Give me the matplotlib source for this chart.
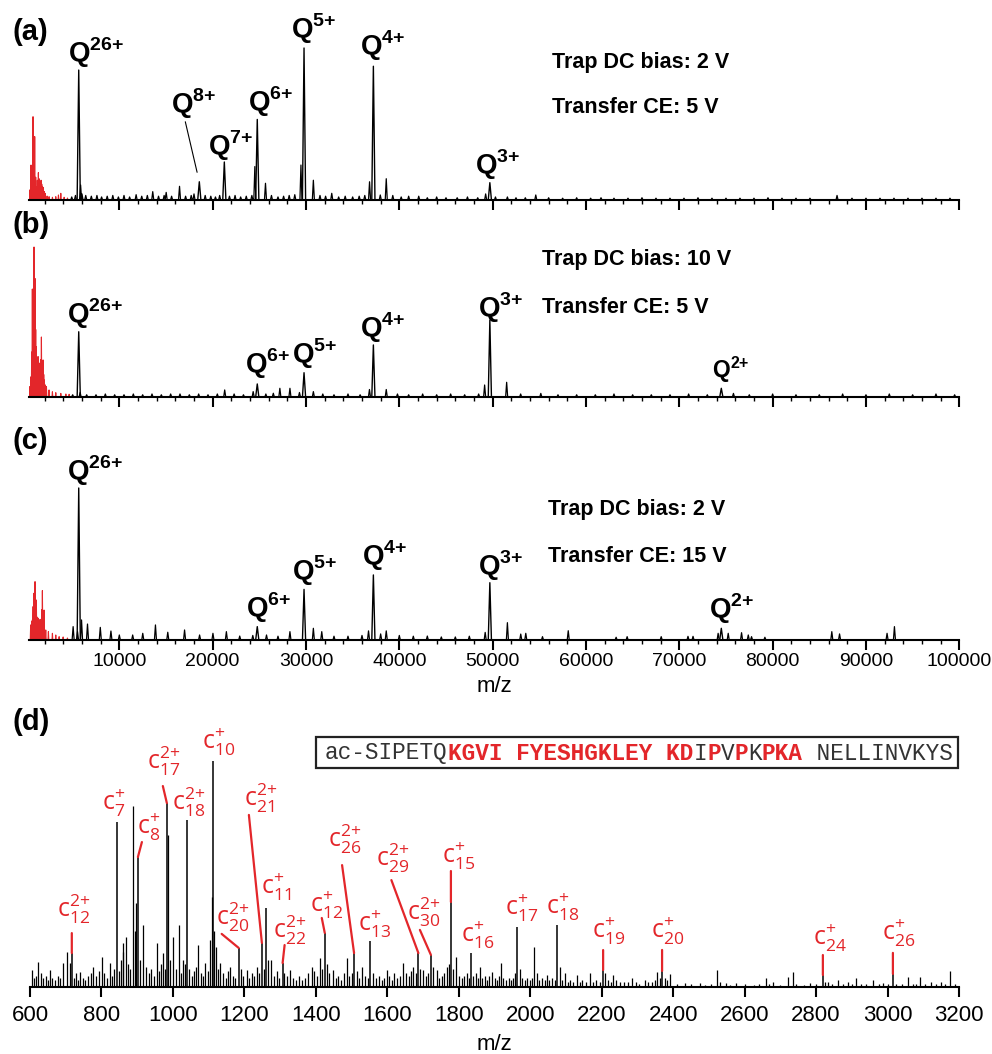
import numpy as np
import matplotlib
matplotlib.use('Agg')
import matplotlib.pyplot as plt
from matplotlib.patches import Rectangle
from matplotlib.ticker import MultipleLocator

plt.rcParams['font.family'] = ['Liberation Sans', 'DejaVu Sans']
plt.rcParams['mathtext.fontset'] = 'custom'
plt.rcParams['mathtext.rm'] = 'Liberation Sans'
plt.rcParams['mathtext.bf'] = 'Liberation Sans:bold'
plt.rcParams['mathtext.sf'] = 'Open Sans'

RED = '#e3262a'
W, H = 992, 1054
PT = 72 / 100  # pixel -> point

# ---------------- data: native MS, panels (a)-(c), intensities in % ----------------
# charge-state peaks (m/z, intensity)
q_charges = ['26+', '8+', '7+', '6+', '5+', '4+', '3+', '2+']
q_mz = [5650, 18570, 21250, 24780, 29790, 37220, 49700, 74500]

a_q_int = [85.5, 12, 25, 53, 100, 88, 11.4, None]
b_q_int = [43.5, None, None, 8.7, 16.2, 34.7, 51.3, 5.8]
c_q_int = [100, None, None, 8.8, 33.3, 42.8, 37.7, 7.7]

# low m/z fragments (red)
a_red_mz = [394, 538, 645, 753, 824, 932, 1040, 1111, 1219, 1326, 1398, 1505, 1613,
            1685, 1756, 1864, 1971, 2043, 2258, 2473, 2832, 3190, 3477, 3728, 4086, 4444]
a_red_int = [6.6, 23, 18.6, 54.8, 26, 41.7, 15, 8.8, 13, 18, 14, 9.9, 13,
             10.5, 9, 8.3, 5.5, 4.4, 2.6, 2.2, 1.8, 2.2, 3.3, 4.4, 1.8, 1.3]
b_red_mz = [400, 540, 610, 680, 760, 860, 968, 1040, 1110, 1200, 1290, 1380, 1470, 1560,
            1650, 1740, 1830, 1900, 1970, 2080, 2190, 2470, 2830, 3190, 3730, 4270, 4620]
b_red_int = [6.9, 13.5, 30, 72, 60, 100, 79, 45, 33.5, 20, 27, 18, 22.6, 25,
             40, 20, 24.7, 15, 11.3, 8, 6.9, 4.7, 3.5, 2.9, 2.4, 2, 1.8]
c_red_mz = [500, 600, 680, 760, 824, 900, 968, 1040, 1110, 1220, 1326, 1505, 1613, 1700,
            1756, 1850, 1935, 2115, 2400, 2830, 3190, 3550, 3980, 4440]
c_red_int = [9.9, 12, 13.2, 22, 30.7, 20, 38.4, 20, 26.3, 15, 14.3, 13.6, 11, 20,
             32.5, 18, 19.7, 6.6, 5.5, 4.4, 3.3, 2.2, 2, 1.3]

# other (minor) peaks
a_minor_mz = [4900, 5300, 5850, 6000, 6400, 7000, 7600, 8100, 8700, 9300, 9900, 10500, 11100,
              11800, 12400, 13000, 13580, 14200, 14800, 15020, 15600, 16450, 17100, 17700,
              18000, 19200, 19800, 20300, 20750, 21800, 22400, 23000, 23600, 24200, 24520,
              25660, 26300, 27000, 27600, 28200, 28800, 29460, 30790, 31500, 32100, 32760,
              33500, 34200, 35000, 35700, 36300, 36810, 37960, 38600, 39300, 40200, 41000,
              42080, 43000, 44000, 45000, 46200, 47300, 48400, 49250, 50300, 51580, 52500,
              53500, 54620, 56000, 57500, 59000, 60500, 61610, 63000, 64500, 66000, 67500,
              69000, 70500, 72000, 73500, 75000, 76500, 78000, 79500, 81000, 82500, 84000,
              86900, 88500, 90000, 91500, 93000, 94500, 96000, 97500, 99000]
a_minor_int = [2, 3, 9.9, 4, 3, 2.5, 3, 2, 2.5, 3, 2, 3, 2,
               3.5, 2.5, 3, 5.5, 2.5, 3, 5, 2.5, 9, 2.5, 3,
               4, 3, 2.5, 2, 3, 2.5, 3, 2, 2.5, 3, 22,
               11, 3, 2, 2.5, 3, 3.5, 23, 13, 3, 2.5, 4.4,
               2, 2.5, 2, 2.5, 3, 12, 3.3, 14, 3, 2, 2.5,
               2.5, 1.5, 2, 1.5, 1.5, 2, 1.5, 4, 2, 2, 1.5,
               1.5, 3.3, 1.5, 1.2, 1.5, 1.2, 1.5, 1.2, 1.2, 1.5, 1.2,
               1.2, 1.2, 1.5, 1.2, 1.2, 1.2, 1.2, 1.5, 1.2, 1.2, 1.2,
               3, 1.2, 1.2, 1.2, 1.2, 1.2, 1.2, 1.2, 1.2]
b_minor_mz = [5000, 5800, 6500, 7500, 8500, 9500, 10500, 11500, 12500, 13500, 14500, 15500,
              16500, 17500, 18500, 19500, 20500, 21290, 22300, 23300, 24340, 25700, 26500,
              27200, 28280, 29300, 30790, 31800, 33000, 34500, 35800, 36800, 38600, 39800,
              41000, 42500, 44000, 45500, 47000, 48500, 49140, 51500, 53000, 55160, 57000,
              59000, 61000, 63000, 65000, 67000, 69000, 71000, 73000, 75800, 77500, 80000,
              82500, 85000, 87500, 90000, 92500, 95000, 97500, 99500]
b_minor_int = [1.5, 3, 1.5, 1.5, 2, 1.5, 1.5, 2, 1.5, 2, 1.5, 2,
               2, 1.5, 2, 1.5, 2, 4.7, 2, 1.5, 3.6, 2, 2.5,
               5.8, 5.8, 3, 3.6, 2, 1.5, 2, 1.5, 5, 5, 2,
               1.5, 2, 1.5, 2, 1.5, 2, 8, 9.8, 2, 2.4, 1.5,
               1.5, 1.5, 2, 1.5, 1.5, 1.5, 2, 1.5, 2.4, 1.5, 2,
               1.5, 1.5, 2, 1.5, 2, 1.5, 2, 1.5]
c_minor_mz = [5050, 5520, 5950, 6590, 7960, 9100, 10000, 11430, 12510, 13870, 15190, 16990,
              18600, 20030, 21470, 22900, 24300, 25770, 27000, 28280, 30790, 31690, 33000,
              34500, 36000, 36700, 38000, 38600, 40000, 41500, 43000, 44500, 46000, 47500,
              49200, 51580, 53010, 53550, 55340, 58100, 63230, 64410, 68060, 70930, 71470,
              74160, 75240, 76670, 77390, 77740, 79170, 86340, 87170, 92260, 93050]
c_minor_int = [8.8, 5.5, 13.2, 10.5, 8.3, 5.9, 3.3, 3.3, 4.4, 9.9, 5.1, 6.6,
               3.3, 4.4, 5.5, 2.6, 3, 3.3, 2.5, 5.5, 7.7, 5.5, 2.5,
               2.5, 3, 6, 4, 6, 3, 2.5, 2.6, 2, 2, 2.5,
               5, 11.4, 3.9, 4.4, 2.2, 6.1, 1.8, 2.2, 2.2, 2.4, 2.4,
               4.4, 4.4, 4.8, 3.3, 2.2, 1.8, 5.5, 4.0, 4.4, 8.8]

# ---------------- data: panel (d) top-down MS/MS ----------------
c_ions = ['12', '7', '8', '17', '18', '10', '20', '21', '11', '22', '12', '26', '13',
          '29', '30', '15', '16', '17', '18', '19', '20', '24', '26']
c_z = ['2+', '+', '+', '2+', '2+', '+', '2+', '2+', '+', '2+', '+', '2+', '+',
       '2+', '2+', '+', '+', '+', '+', '+', '+', '+', '+']
c_mz = [717, 843, 902, 983, 1039, 1112, 1184, 1249, 1260, 1307, 1425, 1507, 1551,
        1687, 1722, 1778, 1834, 1963, 2075, 2204, 2369, 2819, 3015]
c_int = [15.0, 73.0, 57.5, 81.4, 73.9, 100, 17.3, 19.5, 35.0, 10.6, 23.9, 15.0, 20.4,
         15.0, 14.2, 37.6, 15.0, 26.5, 27.4, 7.5, 7.1, 5.3, 5.8]

d_mz = [605, 612, 618, 623, 630, 637, 645, 650, 656, 662, 670, 677, 685, 693, 703, 712, 722,
        728, 735, 740, 748, 755, 762, 770, 777, 785, 792, 801, 808, 815, 824, 830, 836, 850,
        855, 859, 861, 869, 875, 880, 888, 893, 896, 908, 917, 925, 932, 940, 948, 955, 962,
        968, 973, 978, 986, 992, 1001, 1008, 1017, 1022, 1027, 1035, 1046, 1052, 1058, 1064,
        1071, 1078, 1084, 1090, 1097, 1104, 1109, 1116, 1121, 1127, 1132, 1140, 1148, 1153,
        1160, 1167, 1174, 1190, 1196, 1206, 1214, 1220, 1227, 1234, 1241, 1255, 1265, 1274,
        1282, 1290, 1298, 1312, 1320, 1328, 1336, 1345, 1353, 1360, 1370, 1378, 1388, 1395,
        1402, 1412, 1418, 1430, 1438, 1449, 1456, 1463, 1470, 1478, 1486, 1494, 1500, 1515,
        1521, 1528, 1537, 1545, 1560, 1568, 1576, 1585, 1591, 1598, 1606, 1613, 1620, 1628,
        1636, 1645, 1652, 1660, 1666, 1673, 1680, 1692, 1701, 1708, 1715, 1728, 1738, 1745,
        1752, 1759, 1766, 1772, 1785, 1792, 1800, 1808, 1815, 1822, 1828, 1840, 1847, 1853,
        1859, 1866, 1873, 1880, 1886, 1892, 1900, 1906, 1912, 1918, 1925, 1932, 1940, 1946,
        1953, 1958, 1970, 1976, 1985, 1992, 2000, 2006, 2011, 2018, 2024, 2032, 2040, 2046,
        2053, 2060, 2068, 2082, 2090, 2097, 2105, 2112, 2120, 2130, 2138, 2146, 2155, 2167,
        2175, 2185, 2195, 2210, 2218, 2225, 2233, 2240, 2250, 2262, 2275, 2284, 2295, 2305,
        2321, 2330, 2340, 2348, 2354, 2362, 2376, 2384, 2391, 2410, 2433, 2450, 2475, 2490,
        2505, 2523, 2531, 2548, 2560, 2576, 2600, 2625, 2640, 2660, 2668, 2680, 2700, 2722,
        2736, 2745, 2765, 2783, 2800, 2826, 2834, 2845, 2862, 2875, 2890, 2900, 2912, 2925,
        2940, 2960, 2975, 2988, 3000, 3025, 3040, 3058, 3070, 3080, 3091, 3105, 3123, 3135,
        3151, 3160, 3176, 3190]
d_int = [7.5, 4, 5, 11.2, 6, 4, 5, 3, 7.5, 4, 3, 5, 4, 10.6, 15.6, 10.8, 4,
         6, 3, 6.8, 4, 3, 5, 6, 9, 5, 7, 13.4, 6, 4, 10.5, 5, 8, 7,
         12, 15.6, 19.3, 22, 10, 8, 80.1, 25, 37, 12, 27.4, 9, 6, 8, 5, 19.3, 7,
         10, 14.9, 8, 67.3, 12, 22, 8, 27.4, 6, 11.9, 10, 8, 5, 7, 9,
         18.6, 6, 5, 10.6, 7, 20.8, 40, 25, 17.8, 8, 10.6, 6, 4, 7,
         9, 5, 4, 8, 5, 7.5, 4, 6, 5, 9, 6, 8, 12, 11.9,
         5, 7, 4, 6, 5, 7.5, 4, 3, 5, 3, 4, 6, 9, 7,
         5, 12.7, 8, 10, 6, 7.5, 4, 5, 3, 6, 12.7, 5, 6, 7,
         4, 9, 5, 4, 6, 4, 5, 3, 4, 7.5, 5, 3, 6, 4,
         5, 10.5, 6, 5, 7, 9, 6, 8, 7.5, 5, 6, 9, 7.5, 4,
         5, 6, 9, 10, 8, 13.4, 5, 4, 5, 6, 4, 5, 6, 4,
         9, 4, 5, 3, 5, 6.8, 4, 3, 5, 10.5, 4, 3, 4, 3,
         4, 6, 8, 4, 3, 4, 3, 4, 17.7, 6, 3, 4, 3, 5.3,
         3, 4, 3, 9, 3, 6.1, 2, 3, 2, 5.3, 2, 3, 2, 6.1,
         2, 3, 2, 6, 3, 2, 5.3, 3, 2, 2, 2, 3.8, 2, 1.5,
         3.1, 2, 2, 3, 6.8, 4, 4, 3, 5.8, 1.5, 1.8, 1.2, 1.8, 1,
         1.5, 7.5, 2, 1.8, 1, 1.8, 1.2, 1, 1.2, 3.8, 1.5, 2.4, 1, 4.6,
         6.8, 1.5, 1, 1.8, 1.2, 2, 2.4, 1.2, 3.1, 1.5, 2.4, 1.2, 3.8, 1.2,
         1.5, 3.1, 1.2, 1.8, 1.2, 1.5, 1.2, 4.6, 1.2, 1.5, 4.6, 1.5, 2.4, 1.5,
         2.4, 1.5, 6.9, 1.2]

sequence = [('ac-SIPETQ', False), ('KGVI FYESHGKLEY KD', True), ('I', False), ('P', True),
            ('V', False), ('P', True), ('K', False), ('PKA', True), (' NELLINVKYS', False)]

# ---------------- layout (pixels) ----------------
# label offsets relative to the peak top: (dx, dy) in pixels
a_lab = {'26+': (-11, 8), '8+': (-28, 69), '7+': (-16, 7), '6+': (-9, 8),
         '5+': (-13, 10), '4+': (-13, 11), '3+': (-15, 9)}
b_lab = {'26+': (-12, 9), '6+': (-12, 11), '5+': (-12, 10), '4+': (-13, 8),
         '3+': (-12, 3), '2+': (-9, 10)}
c_lab = {'26+': (-12, 8), '6+': (-11, 10), '5+': (-12, 9), '4+': (-11, 10),
         '3+': (-12, 8), '2+': (-12, 10)}
# (label dx, label dy, leader start) for c ions
c_layout = [(-15, 36, (0, 20)), (-15, 12, None), (-1, 23, (4, 15)), (-20, 34, (-4, 17)),
            (-15, 10, None), (-11, 12, None), (-23, 23, (-17, 14)), (-18, 137, (-13, 128)),
            (-5, 14, None), (-10, 25, (2, 18)), (-15, 21, (-3, 15)), (-26, 106, (-12, 88)),
            (-12, 10, None), (-42, 87, (-27, 73)), (-24, 35, (-11, 25)), (-9, 39, (0, 31)),
            (-10, 11, None), (-12, 12, None), (-11, 11, None), (-11, 32, (0, 20)),
            (-11, 33, (0, 21)), (-10, 30, (0, 20)), (-11, 34, (0, 21))]

fig = plt.figure(figsize=(W / 100, H / 100), dpi=100)


def make_ax(left, right, top, bottom, full):
    ax = fig.add_axes([left / W, 1 - bottom / H, (right - left) / W, (bottom - top) / H])
    ax.set_ylim(0, 100 * (bottom - top) / full)
    for s in ['top', 'right', 'left']:
        ax.spines[s].set_visible(False)
    ax.spines['bottom'].set_linewidth(1.5)
    ax.set_yticks([])
    ax.patch.set_alpha(0)
    ax.tick_params(axis='x', which='major', direction='out', length=7, width=1.5)
    ax.tick_params(axis='x', which='minor', direction='out', length=3, width=1)
    return ax


def profile(mz, inten, hw):
    xs, ys = [], []
    for i in np.argsort(mz):
        xs += [mz[i] - hw, mz[i], mz[i] + hw]
        ys += [0, inten[i], 0]
    return xs, ys


def draw_native(ax, red_mz, red_int, minor_mz, minor_int, q_int, labels, qsize):
    x, y = profile(red_mz, red_int, 45)
    ax.fill(x, y, color=RED, lw=0)
    ax.plot(x, y, color=RED, lw=0.8)
    x, y = profile(minor_mz, minor_int, 110)
    ax.plot(x, y, color='black', lw=0.9)
    qm = [m for m, v in zip(q_mz, q_int) if v is not None]
    qi = [v for v in q_int if v is not None]
    x, y = profile(qm, qi, 170)
    ax.plot(x, y, color='black', lw=1.0)
    for ch, m, v in zip(q_charges, q_mz, q_int):
        if ch not in labels:
            continue
        dx, dy = labels[ch]
        ax.annotate(r'$\mathbf{Q}^{\mathbf{' + ch[:-1] + '{+}}}$', xy=(m, v),
                    xytext=(dx * PT, dy * PT), textcoords='offset points',
                    ha='left', va='baseline', fontsize=qsize.get(ch, 20),
                    annotation_clip=False)
    ax.set_xlim(300, 100000)
    ax.xaxis.set_major_locator(MultipleLocator(10000))
    ax.xaxis.set_minor_locator(MultipleLocator(2000))


ax_a = make_ax(28.8, 959.3, 40, 200, 152)
draw_native(ax_a, a_red_mz, a_red_int, a_minor_mz, a_minor_int, a_q_int, a_lab, {})
ax_a.annotate('', xy=(q_mz[1], a_q_int[1]), xytext=(-14 * PT, 60 * PT),
              textcoords='offset points', xycoords='data',
              arrowprops=dict(arrowstyle='-', color='black', lw=0.8, shrinkA=0, shrinkB=7))
ax_a.tick_params(labelbottom=False)

ax_b = make_ax(28.8, 959.3, 240, 397, 150)
draw_native(ax_b, b_red_mz, b_red_int, b_minor_mz, b_minor_int, b_q_int, b_lab, {'2+': 16.5})
ax_b.tick_params(labelbottom=False)

ax_c = make_ax(28.8, 959.3, 480, 640, 152)
draw_native(ax_c, c_red_mz, c_red_int, c_minor_mz, c_minor_int, c_q_int, c_lab, {})
ax_c.set_xticks(np.arange(10000, 100001, 10000))
ax_c.tick_params(axis='x', labelsize=14, pad=2)
ax_c.set_xlabel('m/z', fontsize=16, labelpad=5)

# panel (d)
ax_d = make_ax(30, 959, 750, 987, 226)
ax_d.vlines(d_mz, 0, d_int, color='black', lw=0.9)
ax_d.vlines(c_mz, 0, c_int, color='black', lw=1.1)
ax_d.set_xlim(600, 3200)
ax_d.set_xticks(np.arange(600, 3201, 200))
ax_d.tick_params(axis='x', labelsize=16, pad=6)
ax_d.set_xlabel('m/z', fontsize=16, labelpad=6)
for n, z, m, v, (dx, dy, lead) in zip(c_ions, c_z, c_mz, c_int, c_layout):
    # 'c' as plain text (bigger), index and charge as math sub/superscripts
    ax_d.annotate('c$_{\\mathsf{' + n + '}}^{\\mathsf{' + z[:-1] + '{+}}}$',
                  xy=(m, v), xytext=(dx * PT, dy * PT), textcoords='offset points',
                  ha='left', va='baseline', fontsize=18, family='Open Sans',
                  color=RED, annotation_clip=False)
    if lead is not None:
        ax_d.annotate('', xy=(m, v), xytext=(lead[0] * PT, lead[1] * PT),
                      textcoords='offset points',
                      arrowprops=dict(arrowstyle='-', color=RED, lw=1.6, shrinkA=0, shrinkB=0))

# sequence box
fig.patches.append(Rectangle((316 / W, 1 - 768 / H), 642 / W, 31 / H, transform=fig.transFigure,
                             fill=False, lw=1.6, edgecolor='#222222'))
cw = 13.65
idx = 0
for seg, bold in sequence:
    fig.text((325 + idx * cw) / W, 1 - 753 / H, seg, family='Liberation Mono',
             fontsize=16.4, fontweight='bold' if bold else 'normal',
             color=RED if bold else '#333333', ha='left', va='center')
    idx += len(seg)

# condition texts
cond = [(552, 68, 'Trap DC bias: 2 V'), (552, 113, 'Transfer CE: 5 V'),
        (542, 265, 'Trap DC bias: 10 V'), (542, 313, 'Transfer CE: 5 V'),
        (548, 515, 'Trap DC bias: 2 V'), (548, 562, 'Transfer CE: 15 V')]
for x, y, t in cond:
    fig.text(x / W, 1 - y / H, t, fontsize=15.5, fontweight='bold', ha='left', va='baseline')

for y, t in [(32, '(a)'), (225, '(b)'), (441, '(c)'), (722, '(d)')]:
    fig.text(12 / W, 1 - y / H, t, fontsize=21, fontweight='bold', ha='left', va='center')

fig.savefig('out.png', dpi=100)
